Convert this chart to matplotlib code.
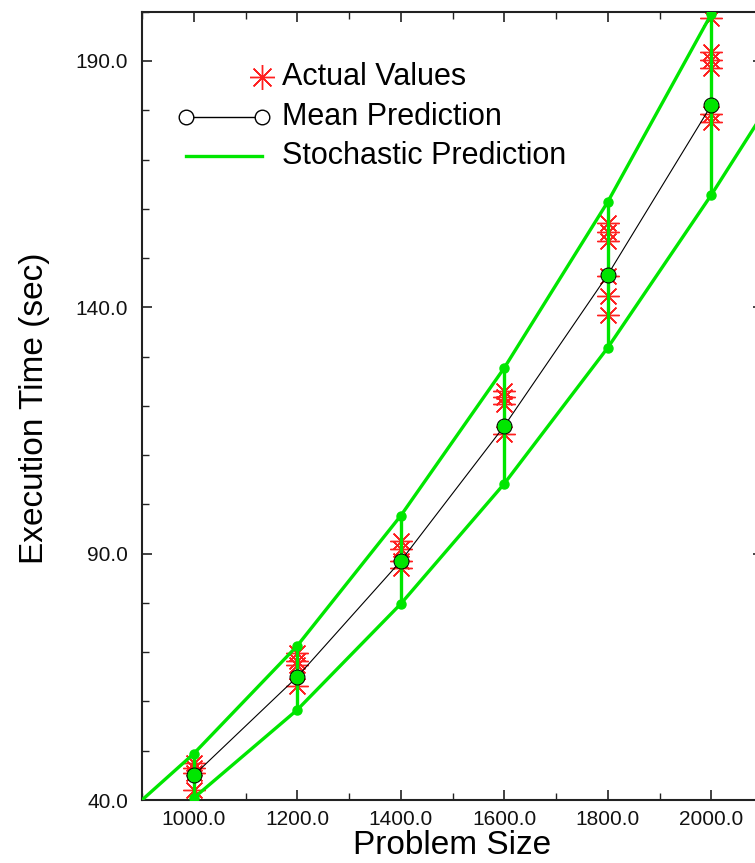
"""Execution time vs problem size: actual values, mean and stochastic prediction"""

import numpy as np
import matplotlib
matplotlib.use("Agg")
import matplotlib.pyplot as plt
from matplotlib.ticker import MultipleLocator, FixedLocator, FormatStrFormatter

plt.rcParams["font.family"] = ["Liberation Sans", "DejaVu Sans"]

# problem sizes at which predictions / measurements exist
sizes = [1000, 1200, 1400, 1600, 1800, 2000]
mean_pred = [45.0, 65.0, 88.5, 115.9, 146.6, 181.0]

# stochastic prediction band (curves run a little beyond the measured sizes)
upper_x = [900, 1000, 1200, 1400, 1600, 1800, 2000]
upper_y = [40.0, 49.4, 71.3, 97.7, 127.7, 161.4, 199.5]
lower_x = [1000, 1200, 1400, 1600, 1800, 2000, 2100]
lower_y = [40.4, 58.3, 79.8, 104.2, 131.8, 162.8, 179.3]

# measured run times
actual = {
    1000: [47.5, 46.5, 45.5, 42.1],
    1200: [69.8, 68.3, 67.4, 63.1],
    1400: [92.6, 91.0, 88.6, 87.0],
    1600: [123.0, 121.8, 120.4, 114.3],
    1800: [157.2, 155.3, 153.4, 146.3, 142.2, 138.4],
    2000: [198.8, 191.8, 190.2, 188.5, 179.2, 177.6],
}

x_ticks = [1000, 1200, 1400, 1600, 1800, 2000]
y_ticks = [40, 90, 140, 190]

green = "#00e600"
red = "#ff2020"
asterisk = (8, 2, 0)

fig = plt.figure(figsize=(7.55, 8.63), dpi=100)
ax = fig.add_axes([142 / 755, 1 - 800 / 863, 621 / 755, 788.3 / 863])

# actual values
for s, vals in actual.items():
    ax.plot([s] * len(vals), vals, linestyle="none", marker=asterisk,
            ms=16, mec=red, mew=1.0, zorder=2)

# stochastic band curves
ax.plot(upper_x, upper_y, color=green, lw=2.4, zorder=3)
ax.plot(lower_x, lower_y, color=green, lw=2.4, zorder=3)

# vertical bars between the bounds, with end markers
up = dict(zip(upper_x, upper_y))
lo = dict(zip(lower_x, lower_y))
for s in sizes:
    ax.plot([s, s], [lo[s], up[s]], color=green, lw=2.4, zorder=3)
    ax.plot([s, s], [lo[s], up[s]], linestyle="none", marker="o", ms=6.5,
            color=green, zorder=4)

# mean prediction
ax.plot(sizes, mean_pred, color="black", lw=0.8, zorder=4)
ax.plot(sizes, mean_pred, linestyle="none", marker="o", ms=10.5,
        mfc="none", mec="black", mew=1.0, zorder=5)
ax.plot(sizes, mean_pred, linestyle="none", marker="o", ms=9,
        color=green, zorder=6)

ax.set_xlim(900, 2100)
ax.set_ylim(40, 200)
ax.xaxis.set_major_locator(FixedLocator(x_ticks))
ax.xaxis.set_minor_locator(MultipleLocator(100))
ax.yaxis.set_major_locator(FixedLocator(y_ticks))
ax.yaxis.set_minor_locator(MultipleLocator(10))
ax.xaxis.set_major_formatter(FormatStrFormatter("%.1f"))
ax.yaxis.set_major_formatter(FormatStrFormatter("%.1f"))

ax.tick_params(which="both", direction="in", top=True, right=True,
               color="#222222", labelsize=15, labelcolor="#111111")
ax.tick_params(which="major", length=7, width=1.2)
ax.tick_params(which="minor", length=5, width=1.0)
ax.tick_params(axis="x", pad=7)
ax.tick_params(axis="y", pad=10)
for sp in ax.spines.values():
    sp.set_linewidth(1.5)
    sp.set_color("#222222")

ax.set_xlabel("Problem Size", fontsize=24)
ax.set_ylabel("Execution Time (sec)", fontsize=24)
ax.xaxis.set_label_coords(0.5, -0.038)
ax.yaxis.set_label_coords(-0.148, 0.497)

# legend drawn by hand in axes coordinates
hx0, hx1, tx = 0.0709, 0.1932, 0.2254
rows = [0.9172, 0.8664, 0.8170]
tr = ax.transAxes
ax.plot([hx1], [rows[0]], transform=tr, linestyle="none", marker=asterisk,
        ms=18, mec=red, mew=1.0)
ax.plot([hx0, hx1], [rows[1], rows[1]], transform=tr, color="black", lw=1.0)
ax.plot([hx0, hx1], [rows[1], rows[1]], transform=tr, linestyle="none",
        marker="o", ms=10.5, mfc="white", mec="black", mew=1.0)
ax.plot([hx0, hx1], [rows[2], rows[2]], transform=tr, color=green, lw=2.4)
for y, txt in zip(rows, ["Actual Values", "Mean Prediction", "Stochastic Prediction"]):
    ax.text(tx, y, txt, transform=tr, fontsize=22, va="center", ha="left")

fig.savefig("out.png", dpi=100)
